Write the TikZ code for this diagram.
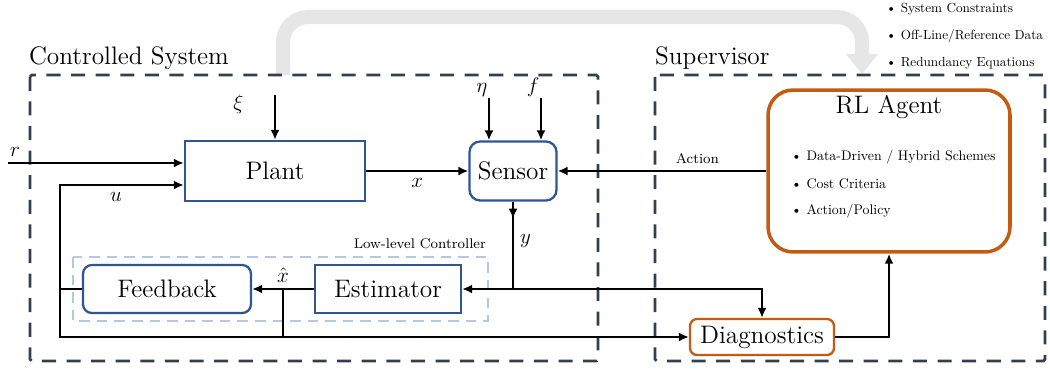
\documentclass[tikz,border=0pt]{standalone}
\usetikzlibrary{arrows.meta,calc}
\definecolor{boxblue}{RGB}{47,85,151}
\definecolor{agentor}{RGB}{197,90,17}
\definecolor{frameslate}{RGB}{51,63,80}
\definecolor{llcblue}{RGB}{180,199,231}
\definecolor{infogray}{RGB}{231,230,230}
\newcommand{\itm}[2][0.75]{\scalebox{#1}{\textbullet~#2}}
\tikzset{
  block/.style={draw=boxblue, line width=1.3pt, fill=white, font=\Large, inner sep=2pt},
  rblock/.style={block, rounded corners=5pt},
  orblock/.style={block, draw=agentor, rounded corners=4pt},
  frame/.style={draw=frameslate, line width=1.6pt, dash pattern=on 8pt off 6pt, rounded corners=1pt},
  llcframe/.style={draw=llcblue, line width=1.4pt, dash pattern=on 6pt off 4pt},
  sig/.style={line width=1.3pt},
  bul/.style={anchor=west, inner sep=1pt},
  lbl/.style={font=\large},
}
\begin{document}
\begin{tikzpicture}[x=0.02cm, y=-0.02cm, >={Latex[length=2mm,width=1.8mm]}]
\useasboundingbox (0,0) rectangle (1050,369);

% info arrow on top
\draw[infogray, line width=8pt, rounded corners=0.5cm, -{Triangle[width=0.62cm,length=0.4cm]}]
  (283,75) -- (283,17) -- (862,17) -- (862,74);
\foreach \t [count=\i] in {System Constraints, Off-Line/Reference Data, Redundancy Equations}
  \node[bul] (c\i) at (884,9+27*\i-27) {\itm{\t}};

% frames
\draw[frame] (30,75) rectangle (598,361);
\node[anchor=south west, font=\Large, inner sep=1pt] (cslbl) at (27,72) {Controlled System};
\draw[frame] (655,75) rectangle (1045,361);
\node[anchor=south west, font=\Large, inner sep=1pt] (suplbl) at (653,72) {Supervisor};
\draw[llcframe] (73,257) rectangle (488,321);
\node[anchor=south east, font=\footnotesize, inner sep=1pt] (llclbl) at (488,251) {Low-level Controller};

% blocks
\node[block, minimum width=3.6cm, minimum height=1.2cm] (plant) at (275,171) {Plant};
\node[rblock, rounded corners=6pt, minimum width=1.74cm, minimum height=1.18cm] (sens) at (513,171) {Sensor};
\node[rblock, minimum width=3.36cm, minimum height=0.96cm] (fb) at (167,289) {Feedback};
\node[block, minimum width=2.92cm, minimum height=0.96cm] (est) at (388,289) {Estimator};
\node[orblock, minimum width=2.88cm, minimum height=0.72cm] (diag) at (762,337) {Diagnostics};
\node[orblock, line width=2pt, rounded corners=0.5cm, minimum width=4.84cm, minimum height=3.24cm] (rl) at (889,171) {};
\node[font=\Large] (rlttl) at (889,107) {RL Agent};
\node[bul] (r1) at (789,157) {\itm[0.79]{Data-Driven / Hybrid Schemes}};
\node[bul] (r2) at (789,184) {\itm[0.79]{Cost Criteria}};
\node[bul] (r3) at (789,211) {\itm[0.79]{Action/Policy}};

% coordinates
\coordinate (rin) at (8,163);
\coordinate (xi0) at (275,95);
\coordinate (eta0) at (489,98);
\coordinate (f0) at (541,98);
\coordinate (ujoin) at (60,289);
\coordinate (ubot) at (60,337);
\coordinate (xhj) at (283,289);
\coordinate (xhb) at (283,337);
\coordinate (ysplit) at (513,289);

% signals
\draw[sig,->] (rin) -- ($(plant.west)+(0,-8)$) node[lbl, pos=0.04, above] {$r$};
\draw[sig,->] (xi0) -- (plant.north) node[lbl, pos=0.2, left=14pt] {$\xi$};
\draw[sig,->] (eta0) -- (eta0 |- sens.north) node[lbl, pos=0, above left=-3pt] {$\eta$};
\draw[sig,->] (f0) -- (f0 |- sens.north) node[lbl, pos=0, above left=-3pt] {$f$};
\draw[sig,->] (plant.east) -- (sens.west) node[lbl, midway, below] {$x$};
\draw[sig,->] (rl.west) -- (sens.east) node[pos=0.33, above, font=\footnotesize] {Action};
\draw[sig,->] (sens.south) -- ++(0,17);
\draw[sig] (sens.south) -- (ysplit) node[lbl, pos=0.45, right] {$y$};
\draw[sig,->] (ysplit) -- (est.east);
\draw[sig,->] (ysplit) -| (diag.north);
\draw[sig,->] (est.west) -- (fb.east);
\node[lbl, above] (xhlbl) at (xhj) {$\hat{x}$};
\draw[sig] (xhj) -- (xhb);
\draw[sig,->] (fb.west) -- (ujoin) |- ($(plant.west)+(0,14)$);
\node[lbl] (ulbl) at (116,197) {$u$};
\draw[sig,->] (ujoin) -- (ubot) -- (diag.west);
\draw[sig,->] (diag.east) -| (rl.south);
\end{tikzpicture}
\end{document}
